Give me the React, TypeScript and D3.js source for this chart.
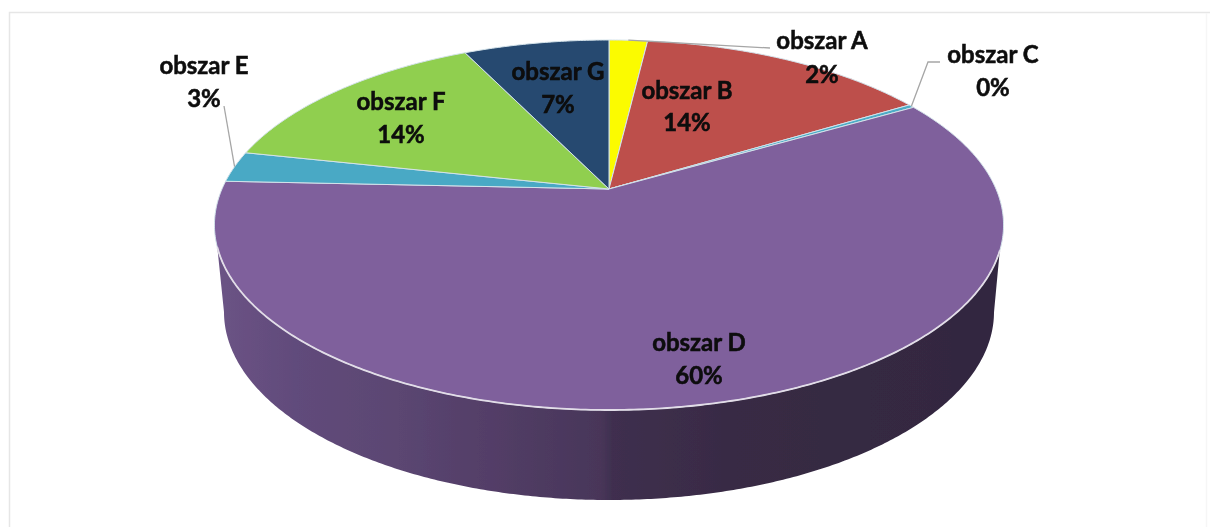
import React, { useEffect, useRef } from "react";
import * as d3 from "d3";

const categories = ["obszar A", "obszar B", "obszar C", "obszar D", "obszar E", "obszar F", "obszar G"];
const values = [1.9, 14.4, 0.3, 59.1, 2.7, 14.4, 7.2];
const percentLabels = ["2%", "14%", "0%", "60%", "3%", "14%", "7%"];
const colors = ["#fbfb06", "#bd4f4c", "#4bacc6", "#7f609c", "#48a9c5", "#90cf4f", "#27496f"];

const width = 1210, height = 527;

// top face is a circle seen in perspective, k pulls the centre up from the ellipse middle
const cx = 609, cy = 189, ax = 387, ay = 178, k = 0.1946;
function project(a: number): [number, number] {
    const d = 1 + k * Math.cos(a);
    return [cx + ax * Math.sin(a) / d, cy - ay * Math.cos(a) / d];
}

// label placement: centre x, first and second baseline
const labelPos = [
    [822, 49, 83], [687, 99, 131], [993, 63, 96], [699, 351, 384],
    [204, 74, 107], [401, 110, 143], [558, 80, 113]
];
// leader elbows, from the slice edge out to the label
const leaders: { [i: number]: [number, number][] } = {
    0: [[770, 48]],
    2: [[928, 62], [940, 62]],
    4: [[224, 106]]
};

const wallStops = [
    [0, "#6b5385"], [0.1, "#614b7b"], [0.23, "#5b4672"], [0.36, "#523d66"], [0.49, "#483659"],
    [0.505, "#3f2f4f"], [0.66, "#382b44"], [1, "#322740"]
];

export default function App() {
    const ref = useRef<SVGSVGElement>(null);

    useEffect(() => {
        const svg = d3.select(ref.current);
        svg.selectAll("*").remove();

        const line = d3.line();
        const pie = d3.pie<number>().sort(null).value(d => d);
        const slices = pie(values);

        const defs = svg.append("defs");
        const grad = defs.append("linearGradient").attr("id", "wall");
        grad.selectAll("stop").data(wallStops).enter().append("stop")
            .attr("offset", d => d[0] as number)
            .attr("stop-color", d => d[1] as string);
        defs.append("filter").attr("id", "soft")
            .append("feGaussianBlur").attr("stdDeviation", 0.5);

        // frame, the right side is barely there
        svg.append("path")
            .attr("d", line([[9.5, height], [9.5, 12.5], [1210, 12.5]]))
            .attr("fill", "none")
            .attr("stroke", "#e6e6e6")
            .attr("stroke-width", 1.5);
        svg.append("path")
            .attr("d", line([[1206.5, 13], [1206.5, height]]))
            .attr("fill", "none")
            .attr("stroke", "#f6f6f6")
            .attr("stroke-width", 1.5);

        const g = svg.append("g").attr("filter", "url(#soft)");

        // side wall, top rim then bottom ellipse back
        const rimAngles = d3.range(1.9, 4.4, 0.01);
        const rim = rimAngles.map(project);
        const bottom = d3.range(1.5 * Math.PI, 0.5 * Math.PI, -0.01)
            .map(a => [cx + 385 * Math.sin(a), 312 - 188 * Math.cos(a)] as [number, number]);
        g.append("path")
            .attr("d", line([...rim, ...bottom]) + "Z")
            .attr("fill", "url(#wall)");

        // top face
        g.selectAll("path.slice")
            .data(slices)
            .enter()
            .append("path")
            .attr("class", "slice")
            .attr("d", d => {
                const n = Math.max(2, Math.ceil((d.endAngle - d.startAngle) / 0.01));
                const pts = d3.range(n + 1).map(i => project(d.startAngle + (d.endAngle - d.startAngle) * i / n));
                return line([[cx, cy], ...pts]) + "Z";
            })
            .attr("fill", (d, i) => colors[i])
            .attr("stroke", "#d3e2ea")
            .attr("stroke-width", 1)
            .attr("stroke-linejoin", "round");

        // light edge on the front of the top face
        g.append("path")
            .attr("d", line(rim))
            .attr("fill", "none")
            .attr("stroke", "#e2dde8")
            .attr("stroke-width", 1.8);

        // leader lines
        slices.forEach((d, i) => {
            if (!leaders[i]) return;
            const start = project((d.startAngle + d.endAngle) / 2);
            g.append("path")
                .attr("d", line([start, ...leaders[i]]))
                .attr("fill", "none")
                .attr("stroke", "#a6a6a6")
                .attr("stroke-width", 1.3);
        });

        // labels
        const labels = g.selectAll("text.label")
            .data(categories)
            .enter()
            .append("text")
            .attr("class", "label")
            .attr("text-anchor", "middle")
            .attr("font-family", "Lato, 'Open Sans', sans-serif")
            .attr("font-weight", 700)
            .attr("font-size", 24)
            .attr("stroke", "#0a0a0a")
            .attr("stroke-width", 0.5)
            .attr("fill", "#0a0a0a");
        labels.append("tspan")
            .attr("x", (d, i) => labelPos[i][0])
            .attr("y", (d, i) => labelPos[i][1])
            .text(d => d);
        labels.append("tspan")
            .attr("x", (d, i) => labelPos[i][0])
            .attr("y", (d, i) => labelPos[i][2])
            .text((d, i) => percentLabels[i]);
    }, []);

    return (
        <svg
            ref={ref}
            width={width}
            height={height}
            style={{ position: "absolute", left: 0, top: 0, background: "#fff" }}
        />
    );
}
